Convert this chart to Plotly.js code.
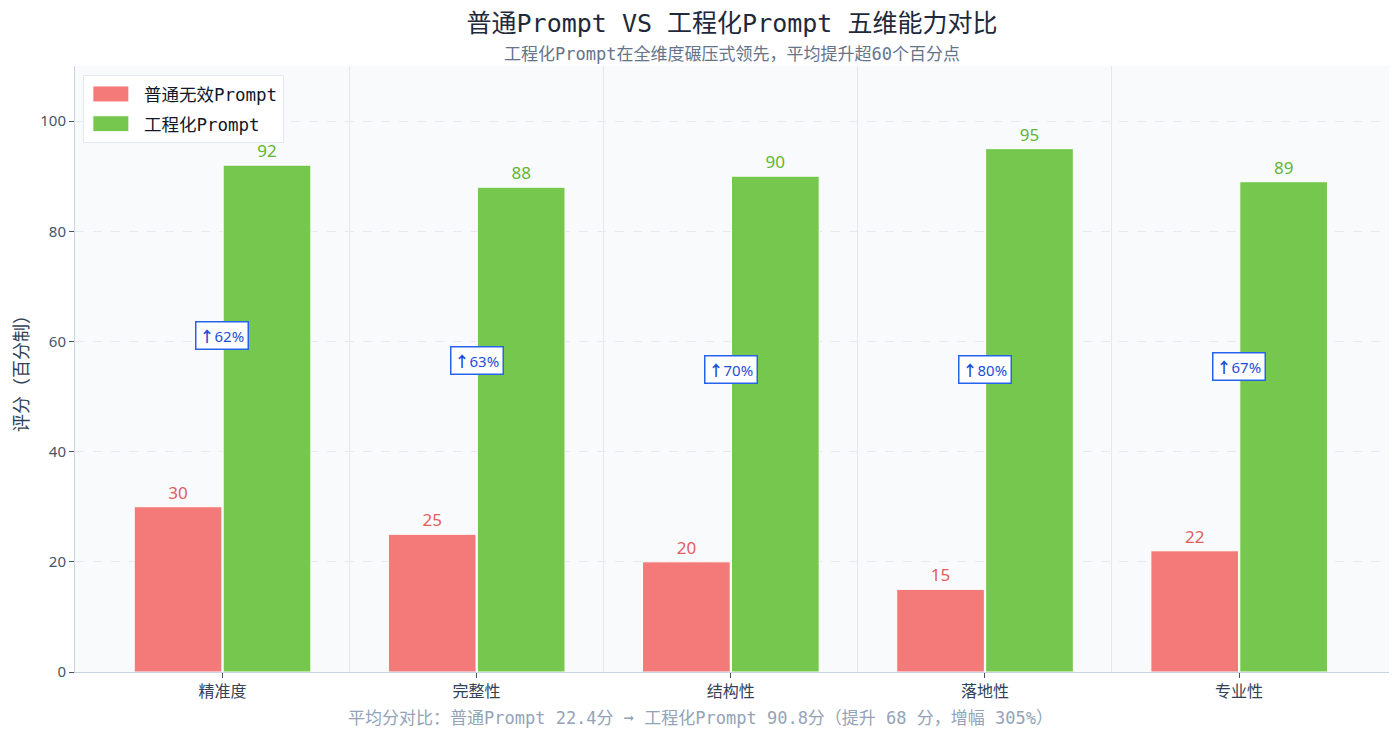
<!DOCTYPE html>
<html>
<head>
<meta charset="utf-8">
<script src="https://cdn.plot.ly/plotly-3.0.1.min.js"></script>
<style>
  html, body { margin: 0; padding: 0; background: #fff; }
  #chart { width: 1400px; height: 737px; }
</style>
</head>
<body>
<div id="chart"></div>
<script>
var dimensions = ['精准度', '完整性', '结构性', '落地性', '专业性'];
var plainScores = [30, 25, 20, 15, 22];
var engineeredScores = [92, 88, 90, 95, 89];
var plainName = '普通无效Prompt';
var engineeredName = '工程化Prompt';

var monoFont = '"DejaVu Sans Mono", "Noto Sans CJK SC", monospace';
var sansFont = '"Noto Sans", "Noto Sans CJK SC", sans-serif';

// gain in points, shown as a badge between the two bars
var gains = plainScores.map(function (p, i) { return engineeredScores[i] - p; });
var mids = plainScores.map(function (p, i) { return (engineeredScores[i] + p) / 2; });

var avgPlain = plainScores.reduce(function (a, b) { return a + b; }, 0) / plainScores.length;
var avgEng = engineeredScores.reduce(function (a, b) { return a + b; }, 0) / engineeredScores.length;
var avgGain = avgEng - avgPlain;
var avgPct = avgGain / avgPlain * 100;

var plainTrace = {
    type: 'bar',
    name: plainName,
    legendgroup: 'plain',
    x: dimensions,
    y: plainScores,
    width: 0.345,
    offset: -0.347,
    marker: { color: '#f47a7a', line: { color: '#ffffff', width: 1 } },
    text: plainScores.map(String),
    textposition: 'outside',
    textfont: { color: '#e35d5d', size: 17, family: sansFont },
    cliponaxis: false
};

var engineeredTrace = {
    type: 'bar',
    name: engineeredName,
    legendgroup: 'eng',
    x: dimensions,
    y: engineeredScores,
    width: 0.345,
    offset: 0.003,
    marker: { color: '#76c74e', line: { color: '#ffffff', width: 1 } },
    text: engineeredScores.map(String),
    textposition: 'outside',
    textfont: { color: '#5fb632', size: 17, family: sansFont },
    cliponaxis: false
};

// invisible trace to carry the category boundary grid lines
var boundaryTrace = {
    type: 'scatter',
    x: [0.5, 3.5],
    y: [0, 0],
    xaxis: 'x2',
    mode: 'markers',
    marker: { opacity: 0 },
    showlegend: false,
    hoverinfo: 'skip'
};

var annotations = dimensions.map(function (d, i) {
    return {
        x: d,
        y: mids[i],
        xref: 'x',
        yref: 'y',
        text: '<b>↑</b>' + gains[i] + '%',
        showarrow: false,
        font: { color: '#1d4ed8', size: 15, family: sansFont },
        bgcolor: '#ffffff',
        bordercolor: '#2563eb',
        borderwidth: 1.5,
        borderpad: 3
    };
});

annotations.push({
    xref: 'paper', yref: 'paper',
    x: 0.5, y: 1.02,
    xanchor: 'center', yanchor: 'middle',
    text: '工程化Prompt在全维度碾压式领先，平均提升超60个百分点',
    showarrow: false,
    font: { color: '#64748b', size: 17, family: monoFont }
});

annotations.push({
    xref: 'paper', yref: 'paper',
    x: 0.4757, y: -0.076,
    xanchor: 'center', yanchor: 'middle',
    text: '平均分对比：普通Prompt ' + avgPlain.toFixed(1) + '分 ➞ 工程化Prompt ' + avgEng.toFixed(1) +
          '分（提升 ' + Math.round(avgGain) + ' 分，增幅 ' + Math.round(avgPct) + '%）',
    showarrow: false,
    font: { color: '#94a3b8', size: 17, family: monoFont }
});

var layout = {
    width: 1400,
    height: 737,
    margin: { l: 75, r: 11, t: 66, b: 65 },
    paper_bgcolor: '#ffffff',
    plot_bgcolor: '#f8fafc',
    font: { family: monoFont, color: '#334155' },
    title: {
        text: '普通Prompt VS 工程化Prompt 五维能力对比',
        xref: 'paper',
        x: 0.5, xanchor: 'center',
        y: 0.968, yanchor: 'middle',
        font: { size: 25, color: '#1e293b', family: monoFont }
    },
    barmode: 'group',
    xaxis: {
        range: [-0.58, 4.59],
        showgrid: false,
        showline: true,
        linecolor: '#cbd5e1',
        linewidth: 1,
        ticks: 'outside',
        ticklen: 5,
        tickcolor: '#475569',
        tickfont: { size: 16, color: '#334155', family: monoFont },
        zeroline: false,
        fixedrange: true
    },
    xaxis2: {
        overlaying: 'x',
        range: [-0.58, 4.59],
        tickvals: [0.5, 1.5, 2.5, 3.5],
        showticklabels: false,
        ticks: '',
        showgrid: true,
        gridcolor: '#e2e8f0',
        gridwidth: 1,
        showline: false,
        zeroline: false
    },
    yaxis: {
        range: [0, 110],
        tickvals: [0, 20, 40, 60, 80, 100],
        showgrid: true,
        gridcolor: '#e5e9f0',
        griddash: 'dash',
        gridwidth: 1,
        showline: true,
        linecolor: '#cbd5e1',
        linewidth: 1,
        ticks: 'outside',
        ticklen: 5,
        tickcolor: '#475569',
        tickfont: { size: 15, color: '#475569', family: sansFont },
        zeroline: false,
        title: {
            text: '评分（百分制）',
            standoff: 6,
            font: { size: 18, color: '#334155', family: monoFont }
        }
    },
    legend: {
        x: 0.006, y: 0.985,
        xanchor: 'left', yanchor: 'top',
        bgcolor: '#ffffff',
        bordercolor: '#e2e8f0',
        borderwidth: 1,
        font: { size: 17.5, color: '#111827', family: monoFont },
        itemwidth: 50,
        tracegroupgap: 4
    },
    annotations: annotations,
    showlegend: true
};

Plotly.newPlot('chart', [plainTrace, engineeredTrace, boundaryTrace], layout, { displayModeBar: false, staticPlot: true })
    .then(function () {
        // widen the legend swatches into bars like the original
        document.querySelectorAll('.legend .legendpoints path').forEach(function (p) {
            p.setAttribute('d', 'M15,8H-21V-8H15Z');
        });
    });
</script>
</body>
</html>
